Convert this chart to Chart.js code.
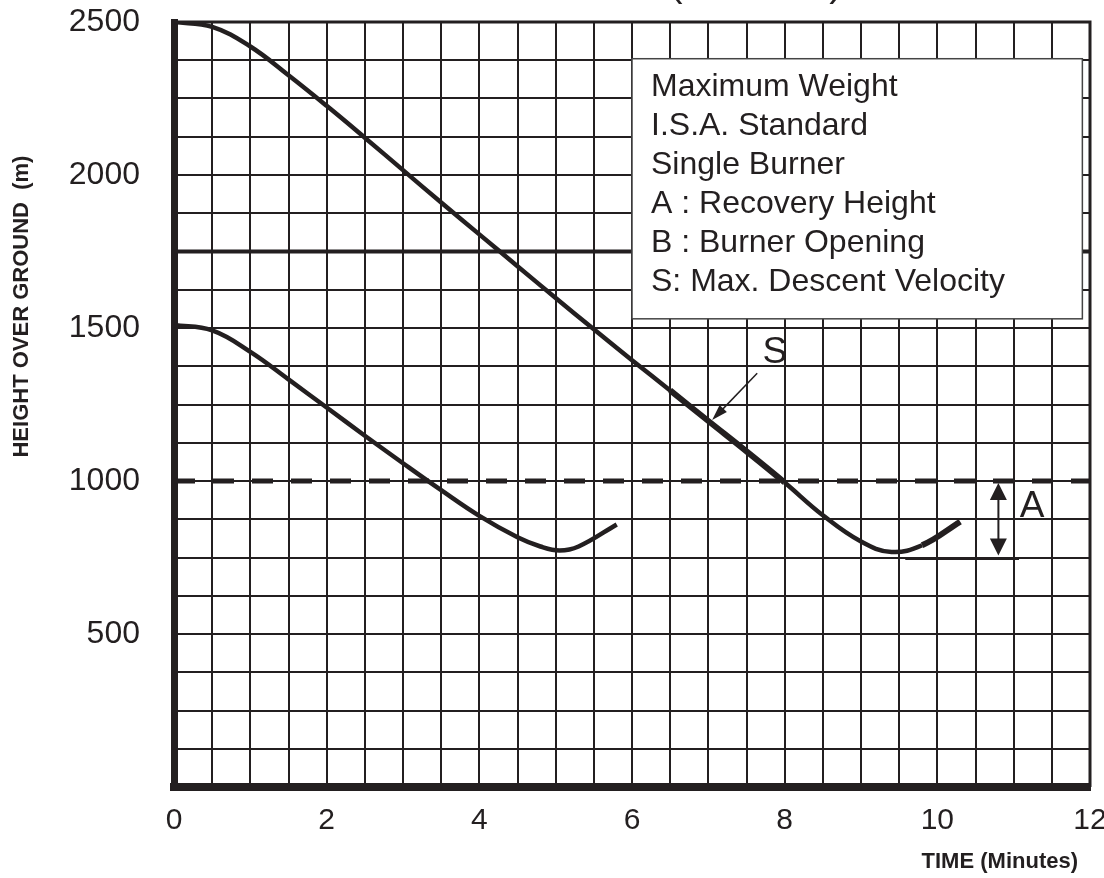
<!DOCTYPE html>
<html>
<head>
<meta charset="utf-8">
<script src="https://cdn.jsdelivr.net/npm/chart.js@4.4.0/dist/chart.umd.min.js"></script>
<style>
  html, body { margin: 0; padding: 0; background: #fff; }
</style>
</head>
<body>
<canvas id="myChart" width="1104" height="878"></canvas>
<script>
// Curva superior (descenso desde 2500 m)
const tiempoAlto = [0, 0.5, 1.0, 1.5, 2.0, 2.5, 3.0, 3.5, 4.0, 4.5, 5.0, 5.5, 6.0, 6.5, 7.0, 7.5, 8.0, 8.5, 9.0, 9.4, 9.8, 10.3];
const alturaAlto = [2500, 2484, 2420, 2326, 2226, 2122, 2016, 1910, 1806, 1702, 1598, 1496, 1395, 1296, 1196, 1097, 995, 888, 802, 768, 790, 867];

// Curva inferior (descenso desde 1500 m)
const tiempoBajo = [0, 0.5, 1.0, 1.5, 2.0, 2.5, 3.0, 3.5, 4.0, 4.5, 4.8, 5.05, 5.3, 5.8];
const alturaBajo = [1510, 1492, 1422, 1332, 1240, 1148, 1058, 970, 886, 816, 786, 773, 786, 858];

// Lineas de referencia horizontales
const alturaRecuperacion = 1000;
const alturaQuemador = 1750;

// Etiquetas
const etiquetasY = [500, 1000, 1500, 2000, 2500];
const etiquetasX = [0, 2, 4, 6, 8, 10, 12];
const textoLeyenda = [
  'Maximum Weight',
  'I.S.A. Standard',
  'Single Burner',
  'A : Recovery Height',
  'B : Burner Opening',
  'S: Max. Descent Velocity'
];

const negro = '#231f20';
const fuente = '"Liberation Sans", Arial, sans-serif';

function puntos(xs, ys) {
  return xs.map((x, i) => ({ x: x, y: ys[i] }));
}

// Flecha con punta rellena
function flecha(ctx, x1, y1, x2, y2, largo, ancho) {
  const ang = Math.atan2(y2 - y1, x2 - x1);
  ctx.beginPath();
  ctx.moveTo(x1, y1);
  ctx.lineTo(x2 - Math.cos(ang) * largo * 0.8, y2 - Math.sin(ang) * largo * 0.8);
  ctx.stroke();
  ctx.beginPath();
  ctx.moveTo(x2, y2);
  ctx.lineTo(x2 - Math.cos(ang) * largo + Math.sin(ang) * ancho / 2, y2 - Math.sin(ang) * largo - Math.cos(ang) * ancho / 2);
  ctx.lineTo(x2 - Math.cos(ang) * largo - Math.sin(ang) * ancho / 2, y2 - Math.sin(ang) * largo + Math.cos(ang) * ancho / 2);
  ctx.closePath();
  ctx.fill();
}

const anotaciones = {
  id: 'anotaciones',
  afterDraw(chart) {
    const ctx = chart.ctx;
    const xs = chart.scales.x;
    const ys = chart.scales.y;
    const area = chart.chartArea;
    ctx.save();
    ctx.strokeStyle = negro;
    ctx.fillStyle = negro;

    // marco superior y derecho
    ctx.lineWidth = 3;
    ctx.beginPath();
    ctx.moveTo(area.left, area.top);
    ctx.lineTo(area.right, area.top);
    ctx.lineTo(area.right, area.bottom);
    ctx.stroke();

    // caja de leyenda
    const bx1 = xs.getPixelForValue(6.0);
    const bx2 = xs.getPixelForValue(11.9);
    const by1 = ys.getPixelForValue(2380);
    const by2 = ys.getPixelForValue(1530);
    ctx.fillStyle = '#fff';
    ctx.fillRect(bx1, by1, bx2 - bx1, by2 - by1);
    ctx.strokeStyle = '#444';
    ctx.lineWidth = 1.5;
    ctx.strokeRect(bx1, by1, bx2 - bx1, by2 - by1);
    ctx.fillStyle = negro;
    ctx.font = '32px ' + fuente;
    ctx.textAlign = 'left';
    ctx.textBaseline = 'middle';
    textoLeyenda.forEach((t, i) => {
      ctx.fillText(t, bx1 + 19, by1 + 28 + i * 39);
    });

    // S y su flecha
    ctx.strokeStyle = negro;
    ctx.font = '37px ' + fuente;
    ctx.textAlign = 'center';
    ctx.fillText('S', xs.getPixelForValue(7.87), ys.getPixelForValue(1418));
    ctx.lineWidth = 1.5;
    flecha(ctx, xs.getPixelForValue(7.64), ys.getPixelForValue(1352), xs.getPixelForValue(7.05), ys.getPixelForValue(1199), 16, 10);

    // A: altura de recuperacion
    const ax = xs.getPixelForValue(10.8);
    const ay1 = ys.getPixelForValue(1000);
    const ay2 = ys.getPixelForValue(750);
    ctx.lineWidth = 2;
    flecha(ctx, ax, (ay1 + ay2) / 2, ax, ay1 + 2, 17, 17);
    flecha(ctx, ax, (ay1 + ay2) / 2, ax, ay2 - 2, 17, 17);
    ctx.beginPath();
    ctx.moveTo(xs.getPixelForValue(9.58), ys.getPixelForValue(745));
    ctx.lineTo(xs.getPixelForValue(11.07), ys.getPixelForValue(745));
    ctx.stroke();
    ctx.fillText('A', xs.getPixelForValue(11.24), ys.getPixelForValue(916));

    // titulos de ejes
    ctx.font = 'bold 22px ' + fuente;
    ctx.textAlign = 'right';
    ctx.fillText('TIME (Minutes)', area.right - 12, 862);
    ctx.save();
    ctx.translate(22, ys.getPixelForValue(1570));
    ctx.rotate(-Math.PI / 2);
    ctx.textAlign = 'center';
    ctx.fillText('HEIGHT OVER GROUND  (m)', 0, 0);
    ctx.restore();

    // parentesis del titulo cortado arriba
    ctx.font = '40px ' + fuente;
    ctx.textBaseline = 'alphabetic';
    ctx.textAlign = 'center';
    ctx.fillText('(', 676, -4);
    ctx.fillText(')', 836, -4);

    ctx.restore();
  }
};

const ctx = document.getElementById('myChart').getContext('2d');
const myChart = new Chart(ctx, {
  type: 'line',
  data: {
    datasets: [
      {
        data: puntos(tiempoAlto, alturaAlto),
        borderColor: negro,
        borderWidth: 4.5,
        pointRadius: 0,
        tension: 0.4,
        segment: {
          borderWidth: c => ((c.p0.parsed.x >= 6.4 && c.p1.parsed.x <= 8.0) || c.p0.parsed.x >= 9.8 ? 6 : 4.5)
        }
      },
      {
        data: puntos(tiempoBajo, alturaBajo),
        borderColor: negro,
        borderWidth: 4.5,
        pointRadius: 0,
        tension: 0.4
      },
      {
        data: [{ x: 0, y: alturaRecuperacion }, { x: 12, y: alturaRecuperacion }],
        borderColor: negro,
        borderWidth: 5,
        borderDash: [21, 18],
        borderCapStyle: 'butt',
        pointRadius: 0
      },
      {
        data: [{ x: 0, y: alturaQuemador }, { x: 12, y: alturaQuemador }],
        borderColor: negro,
        borderWidth: 4,
        pointRadius: 0
      }
    ]
  },
  options: {
    responsive: false,
    animation: false,
    devicePixelRatio: 1,
    layout: { padding: { top: 22, right: 14, left: 0, bottom: 0 } },
    plugins: {
      legend: { display: false },
      tooltip: { enabled: false }
    },
    scales: {
      x: {
        type: 'linear',
        min: 0,
        max: 12,
        afterFit: s => { s.height = 91; s.paddingLeft = 0; s.paddingRight = 0; },
        ticks: {
          stepSize: 0.5,
          autoSkip: false,
          maxRotation: 0,
          padding: 16,
          color: negro,
          font: { family: fuente, size: 30 },
          callback: v => (etiquetasX.includes(v) ? v : '')
        },
        grid: { color: negro, lineWidth: 2, drawTicks: false },
        border: { display: true, width: 8, color: negro }
      },
      y: {
        min: 0,
        max: 2500,
        afterFit: s => { s.width = 174; s.paddingTop = 0; s.paddingBottom = 0; },
        ticks: {
          stepSize: 125,
          autoSkip: false,
          padding: 34,
          color: negro,
          font: { family: fuente, size: 32 },
          callback: v => (etiquetasY.includes(v) ? v : '')
        },
        grid: { color: negro, lineWidth: 2, drawTicks: false },
        border: { display: true, width: 7, color: negro }
      }
    }
  },
  plugins: [anotaciones]
});
</script>
</body>
</html>
